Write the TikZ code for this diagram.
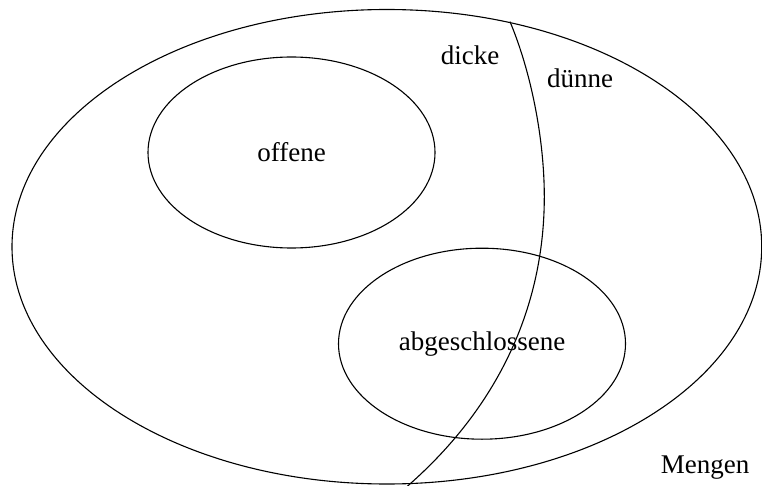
\documentclass[tikz,border=0pt]{standalone}
\usepackage{fontspec}
\setmainfont{Liberation Serif}
\usetikzlibrary{shapes.geometric}
\begin{document}
\begin{tikzpicture}[x=1pt,y=-1pt, line width=1.1pt,
  setshape/.style={draw, ellipse, inner sep=0pt, minimum width=287pt, minimum height=191pt, font=\fontsize{27}{32}\selectfont},
  lbl/.style={inner sep=0pt, anchor=base, font=\fontsize{27}{32}\selectfont}]
\useasboundingbox (0,0) rectangle (762,486);
\node[draw, ellipse, inner sep=0pt, minimum width=749.7pt, minimum height=474.5pt] (all) at (386.85,246.75) {};
\node[setshape] (off) at (291.5,152.5) {offene};
\node[setshape] (abg) at (482,343.7) {abgeschlossene};
\coordinate (ctop) at (510,21.7);
\coordinate (cmid) at (544.3,196.7);
\coordinate (cbot) at (406.5,487);
\draw (ctop) .. controls (531,71.7) and (544.3,138.7) .. (cmid)
             .. controls (544.3,306.7) and (498.5,407) .. (cbot);
\node[lbl] (dicke) at (470,65) {dicke};
\node[lbl] (duenne) at (580,87.3) {dünne};
\node[lbl] (mengen) at (705,473) {Mengen};
\end{tikzpicture}
\end{document}
